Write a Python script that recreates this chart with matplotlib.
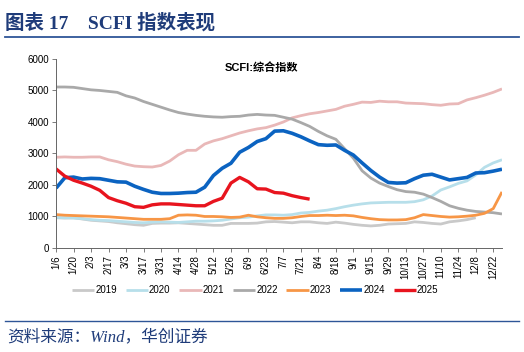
import matplotlib.pyplot as plt
from matplotlib.lines import Line2D

plt.rcParams['font.family'] = ['Liberation Sans', 'Noto Sans CJK SC']

# weekly tick labels (every other week is labelled)
week_labels = ['1/6', '1/20', '2/3', '2/17', '3/3', '3/17', '3/31', '4/14', '4/28',
               '5/12', '5/26', '6/9', '6/23', '7/7', '7/21', '8/4', '8/18', '9/1',
               '9/15', '9/29', '10/13', '10/27', '11/10', '11/24', '12/8', '12/22']

# SCFI composite index by week of year
scfi_2019 = [960, 950, 960, 920, 880, 860, 840, 800, 770, 740, 720, 780, 790, 790, 800,
             780, 760, 740, 720, 720, 780, 780, 780, 790, 830, 840, 820, 800, 830, 830,
             800, 780, 820, 790, 750, 720, 700, 720, 760, 770, 780, 830, 810, 780, 760,
             830, 860, 900, 960]
scfi_2020 = [970, 960, 950, 930, 900, 880, 870, 850, 830, 810, 800, 820, 830, 820, 810,
             830, 850, 850, 860, 880, 920, 960, 980, 1020, 1050, 1050, 1040, 1060, 1110,
             1130, 1170, 1200, 1250, 1310, 1360, 1400, 1430, 1440, 1450, 1450, 1450, 1470,
             1530, 1650, 1840, 1940, 2050, 2130, 2320, 2560, 2700, 2800]
scfi_2021 = [2880, 2890, 2880, 2880, 2890, 2890, 2800, 2740, 2660, 2600, 2580, 2570, 2620,
             2760, 2960, 3100, 3100, 3300, 3400, 3470, 3560, 3650, 3720, 3780, 3820, 3900,
             4000, 4130, 4200, 4260, 4300, 4350, 4400, 4500, 4560, 4630, 4620, 4660, 4640,
             4640, 4600, 4590, 4580, 4550, 4530, 4570, 4580, 4700, 4770, 4850, 4940, 5050]
scfi_2022 = [5110, 5110, 5100, 5060, 5020, 5000, 4970, 4940, 4830, 4760, 4650, 4560, 4470,
             4380, 4300, 4250, 4210, 4180, 4160, 4150, 4170, 4180, 4220, 4240, 4220, 4210,
             4150, 4090, 3980, 3860, 3700, 3560, 3450, 3150, 2850, 2450, 2220, 2060, 1950,
             1850, 1790, 1770, 1710, 1600, 1480, 1340, 1260, 1200, 1160, 1140, 1120, 1080]
scfi_2023 = [1060, 1040, 1030, 1020, 1010, 1000, 990, 970, 950, 930, 910, 910, 910, 930,
             1040, 1050, 1040, 1000, 1000, 990, 970, 980, 1040, 990, 960, 940, 940, 960,
             1000, 1030, 1030, 1040, 1030, 1040, 1020, 970, 930, 900, 890, 890, 900, 960,
             1060, 1030, 1000, 980, 990, 1010, 1040, 1100, 1250, 1780]
scfi_2024 = [1900, 2230, 2250, 2190, 2210, 2200, 2150, 2100, 2090, 1960, 1860, 1770, 1730,
             1730, 1740, 1760, 1770, 1930, 2300, 2530, 2690, 3040, 3190, 3380, 3470, 3710,
             3720, 3640, 3530, 3400, 3280, 3260, 3270, 3100, 2950, 2700, 2460, 2250, 2080,
             2060, 2070, 2200, 2310, 2340, 2250, 2160, 2200, 2240, 2380, 2390, 2440, 2500]
scfi_2025 = [2510, 2280, 2150, 2060, 1960, 1830, 1600, 1500, 1420, 1310, 1290, 1370, 1400,
             1400, 1380, 1360, 1340, 1340, 1480, 1580, 2060, 2240, 2100, 1880, 1870, 1760,
             1740, 1660, 1600, 1550]

series = [
    ('2019', scfi_2019, '#c9c9c9', 2.0),
    ('2020', scfi_2020, '#b7dfea', 2.0),
    ('2021', scfi_2021, '#e9b8b8', 2.0),
    ('2022', scfi_2022, '#a9a9a9', 2.0),
    ('2023', scfi_2023, '#f79646', 2.0),
    ('2024', scfi_2024, '#0b63c1', 2.6),
    ('2025', scfi_2025, '#e8141e', 2.4),
]

fig = plt.figure(figsize=(5.24, 3.52), dpi=100)
ax = fig.add_axes([0.107, 0.2955, 0.851, 0.537])

for name, vals, color, lw in series:
    ax.plot(range(len(vals)), vals, color=color, lw=lw, label=name, solid_capstyle='butt')

ax.set_xlim(0, 51)
ax.set_ylim(0, 6000)
ax.set_yticks(range(0, 6001, 1000))
ax.set_xticks(range(0, 52, 2))
ax.set_xticklabels(week_labels, rotation=90, fontsize=7)
ax.tick_params(axis='y', labelsize=7, length=3, color='#666666', width=0.6, pad=2)
ax.tick_params(axis='x', length=3, color='#666666', width=0.6, pad=2)
for s in ['top', 'right']:
    ax.spines[s].set_visible(False)
for s in ['left', 'bottom']:
    ax.spines[s].set_color('#666666')
    ax.spines[s].set_linewidth(0.7)

ax.text(0.46, 0.955, 'SCFI:综合指数', transform=ax.transAxes, ha='center', va='center',
        fontsize=8, fontweight='bold')

fig.legend(loc='center', bbox_to_anchor=(0.487, 0.176), ncol=7, frameon=False, fontsize=7,
           handlelength=2.3, handletextpad=0.1, columnspacing=0.9)

navy = '#1f3c7a'
fig.text(0.010, 0.935, '图表 17    SCFI 指数表现', fontsize=14, fontweight='bold', color=navy,
         family=['Liberation Serif', 'Noto Sans CJK SC'], va='center')
fig.add_artist(Line2D([0.01, 0.99], [0.895, 0.895], color='#2e5597', lw=1.3))
fig.add_artist(Line2D([0.01, 0.99], [0.088, 0.088], color='#2e5597', lw=1.0))
fig.text(0.014, 0.042, '资料来源：Wind，华创证券', fontsize=12, color=navy,
         family=['Liberation Serif', 'Noto Sans CJK SC'], style='italic', va='center')

fig.savefig('out.png', dpi=100)
